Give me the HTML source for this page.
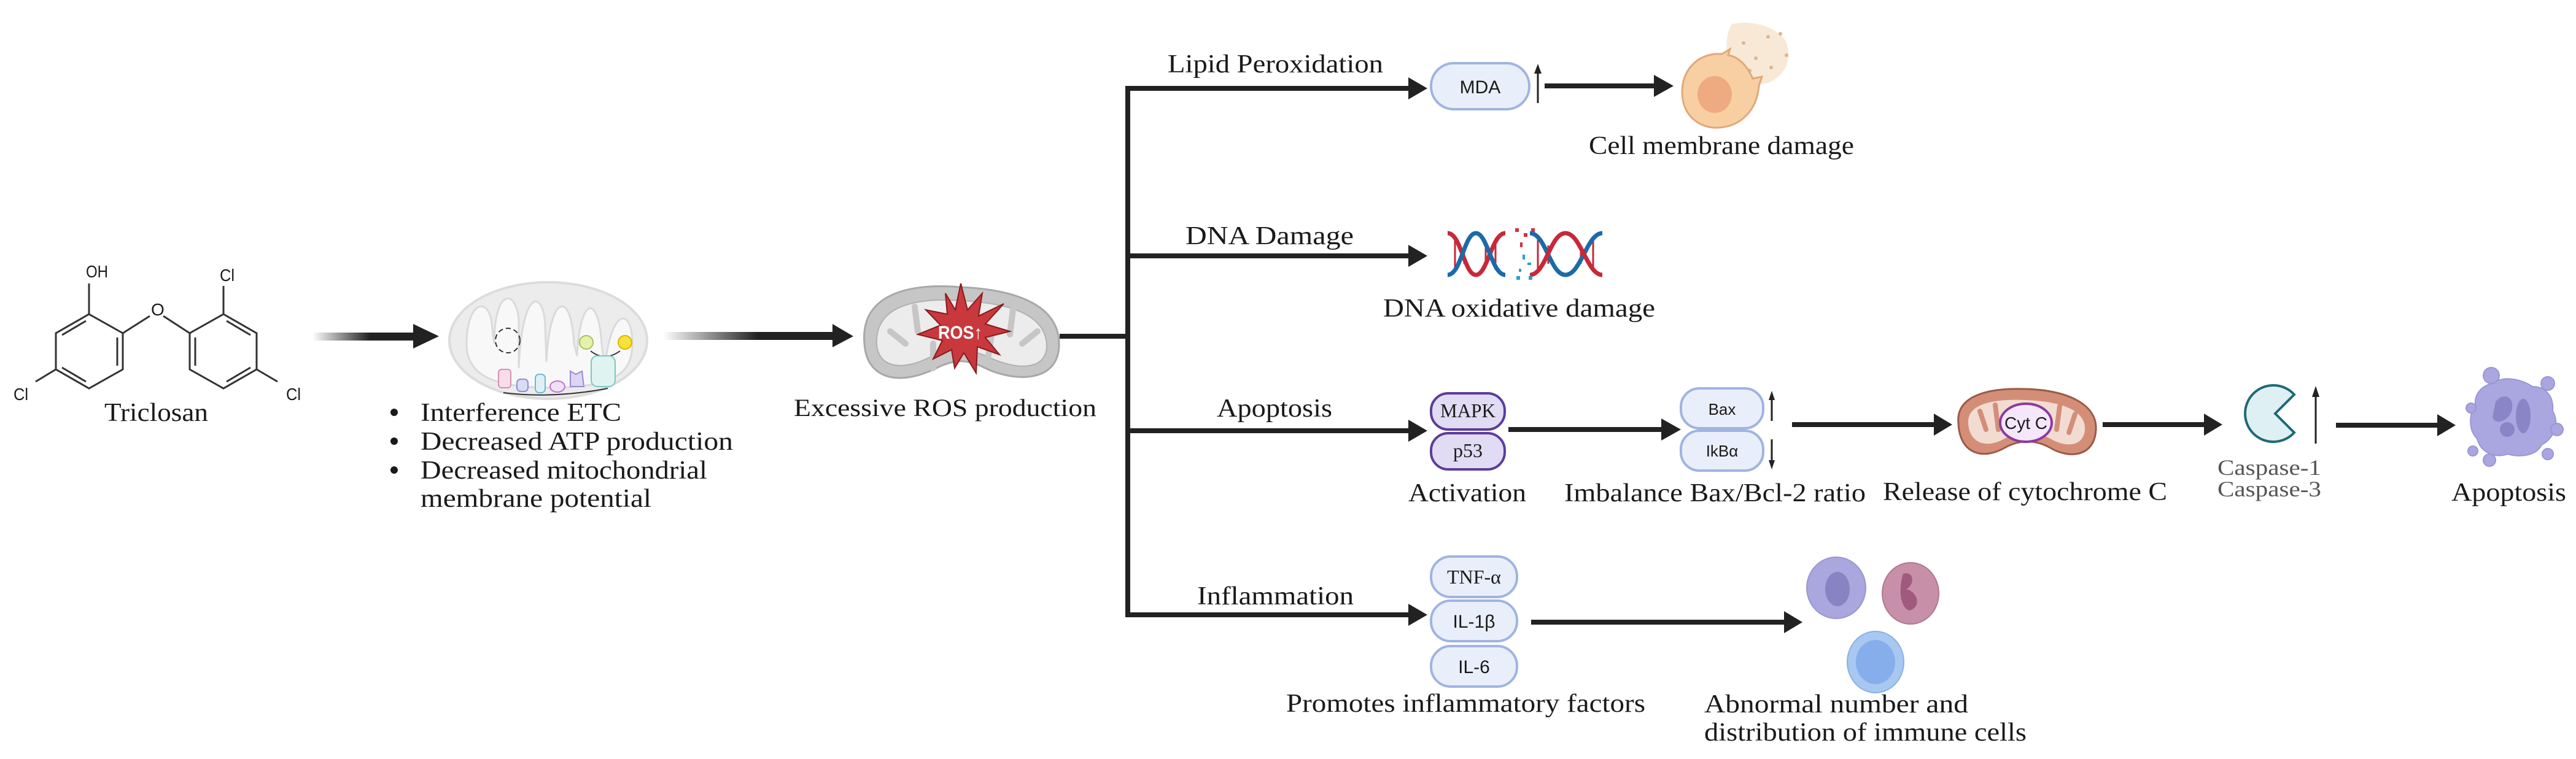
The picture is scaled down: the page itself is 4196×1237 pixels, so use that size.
<!DOCTYPE html>
<html><head><meta charset="utf-8"><style>
html,body{margin:0;padding:0;background:#fff;}
svg{display:block;}
text{font-family:"Liberation Serif",serif;fill:#1a1a1a;}
.s{font-family:"Liberation Sans",sans-serif;}
</style></head><body>
<svg width="4196" height="1237" viewBox="0 0 4196 1237" xmlns="http://www.w3.org/2000/svg">
<defs>
<linearGradient id="g1" x1="0" x2="1" y1="0" y2="0"><stop offset="0" stop-color="#fff"/><stop offset="0.55" stop-color="#222"/><stop offset="1" stop-color="#222"/></linearGradient>
</defs>

<!-- Triclosan -->
<g stroke="#333" stroke-width="3" fill="none">
<polygon points="145,512 200,543 200,602 145,633 91,602 91,543"/>
<line x1="191" y1="550" x2="191" y2="596"/><line x1="140" y1="622" x2="101" y2="599"/><line x1="101" y1="546" x2="140" y2="523"/>
<polygon points="364,512 418,543 418,602 364,633 309,602 309,543"/>
<line x1="318" y1="550" x2="318" y2="596"/><line x1="369" y1="622" x2="408" y2="599"/><line x1="369" y1="523" x2="408" y2="546"/>
<line x1="145" y1="512" x2="145" y2="462"/>
<line x1="200" y1="543" x2="244" y2="515"/><line x1="266" y1="515" x2="309" y2="543"/>
<line x1="364" y1="512" x2="364" y2="466"/>
<line x1="91" y1="602" x2="58" y2="622"/><line x1="418" y1="602" x2="452" y2="622"/>
</g>
<text x="140" y="452" class="s" font-size="28" textLength="36" lengthAdjust="spacingAndGlyphs">OH</text>
<text x="246" y="514" class="s" font-size="28">O</text>
<text x="358" y="458" class="s" font-size="28" textLength="24" lengthAdjust="spacingAndGlyphs">Cl</text>
<text x="22" y="652" class="s" font-size="28" textLength="24" lengthAdjust="spacingAndGlyphs">Cl</text>
<text x="466" y="652" class="s" font-size="28" textLength="24" lengthAdjust="spacingAndGlyphs">Cl</text>
<text x="170" y="686" font-size="42" textLength="169" lengthAdjust="spacingAndGlyphs">Triclosan</text>

<!-- Arrow 1 -->
<rect x="509" y="542" width="170" height="13" fill="url(#g1)"/>
<polygon points="673,528 715,548 673,568" fill="#222"/>

<!-- Mito 1 -->
<ellipse cx="893" cy="555" rx="161" ry="95" fill="#ececec" stroke="#dcdcdc" stroke-width="4"/>
<path d="M760,560 C760,500 790,480 800,520 L805,560 C805,470 840,470 845,520 L845,600 C850,470 885,470 888,530 L890,590 C895,480 930,470 935,560 L940,580 C945,480 975,480 980,560 L985,600 C995,500 1030,500 1030,560 C1030,610 1000,630 900,632 C800,632 760,610 760,560 Z" fill="#f8f8f8" stroke="#dadada" stroke-width="3"/>
<circle cx="827" cy="555" r="20" fill="none" stroke="#333" stroke-width="2" stroke-dasharray="8,5"/>
<circle cx="955" cy="558" r="11" fill="#e6f2a8" stroke="#a8c060" stroke-width="2"/>
<circle cx="1018" cy="558" r="11" fill="#f7e23a" stroke="#d8b800" stroke-width="2"/>
<path d="M962,572 Q985,590 1010,572" fill="none" stroke="#333" stroke-width="2"/>
<rect x="963" y="580" width="39" height="50" rx="10" fill="#dff3f0" stroke="#7cc8c0" stroke-width="2"/>
<rect x="812" y="602" width="20" height="30" rx="5" fill="#f6dde8" stroke="#d790b0" stroke-width="2"/>
<rect x="842" y="618" width="18" height="20" rx="6" fill="#d8dcf4" stroke="#8a90d0" stroke-width="2"/>
<rect x="872" y="610" width="16" height="30" rx="6" fill="#def0f6" stroke="#70b8d0" stroke-width="2"/>
<ellipse cx="908" cy="630" rx="12" ry="9" fill="#f0e0f6" stroke="#c070d0" stroke-width="2"/>
<path d="M929,605 L938,610 L948,605 L951,630 L929,630 Z" fill="#ddd6f2" stroke="#9a8ad0" stroke-width="2"/>
<path d="M820,640 Q900,650 990,633" fill="none" stroke="#333" stroke-width="2"/>

<!-- bullets -->
<g font-size="42">
<circle cx="642" cy="672" r="6" fill="#1a1a1a"/><text x="685" y="686" textLength="327" lengthAdjust="spacingAndGlyphs">Interference ETC</text>
<circle cx="642" cy="719" r="6" fill="#1a1a1a"/><text x="685" y="733" textLength="509" lengthAdjust="spacingAndGlyphs">Decreased ATP production</text>
<circle cx="642" cy="766" r="6" fill="#1a1a1a"/><text x="685" y="780" textLength="467" lengthAdjust="spacingAndGlyphs">Decreased mitochondrial</text>
<text x="685" y="826" textLength="376" lengthAdjust="spacingAndGlyphs">membrane potential</text>
</g>

<!-- Arrow 2 -->
<rect x="1080" y="541" width="280" height="13" fill="url(#g1)"/>
<polygon points="1356,528 1390,548 1356,566" fill="#222"/>

<!-- ROS mito -->
<path d="M1408,560 C1400,470 1500,462 1565,468 C1660,472 1728,500 1725,565 C1722,625 1650,622 1605,600 C1575,585 1555,585 1525,600 C1470,628 1412,622 1408,560 Z" fill="#c6c6c6" stroke="#a8a8a8" stroke-width="3"/>
<path d="M1428,560 C1425,495 1500,485 1565,490 C1650,494 1705,515 1705,565 C1703,605 1655,603 1610,582 C1575,566 1550,566 1515,582 C1470,605 1430,600 1428,560 Z" fill="#ececec" stroke="#b0b0b0" stroke-width="2"/>
<g stroke="#c6c6c6" stroke-width="10" stroke-linecap="round" fill="none">
<path d="M1450,540 L1475,560"/><path d="M1490,500 L1495,540"/><path d="M1520,600 L1520,560"/><path d="M1610,580 L1615,545"/><path d="M1650,505 L1645,545"/><path d="M1690,540 L1665,560"/>
</g>
<polygon points="1565,462 1576,505 1600,478 1594,515 1635,495 1605,528 1645,540 1605,550 1628,578 1592,565 1590,608 1570,575 1555,600 1550,570 1520,585 1535,555 1495,545 1532,530 1508,505 1543,512 1540,478 1556,505" fill="#c8383c" stroke="#8a1a1a" stroke-width="2"/>
<text x="1528" y="552" class="s" font-size="30" font-weight="bold" style="fill:#fff" textLength="72" lengthAdjust="spacingAndGlyphs">ROS↑</text>
<text x="1293" y="678" font-size="40" textLength="493" lengthAdjust="spacingAndGlyphs">Excessive ROS production</text>

<!-- Tree -->
<g stroke="#222" stroke-width="8" fill="none">
<line x1="1726" y1="548" x2="1838" y2="548"/>
<line x1="1837" y1="140" x2="1837" y2="1006"/>
<line x1="1837" y1="144" x2="2300" y2="144"/>
<line x1="1837" y1="417" x2="2300" y2="417"/>
<line x1="1837" y1="702" x2="2300" y2="702"/>
<line x1="1837" y1="1002" x2="2300" y2="1002"/>
<line x1="2516" y1="140" x2="2700" y2="140"/>
<line x1="2457" y1="700" x2="2712" y2="700"/>
<line x1="2919" y1="692" x2="3155" y2="692"/>
<line x1="3425" y1="692" x2="3594" y2="692"/>
<line x1="3805" y1="693" x2="3975" y2="693"/>
<line x1="2494" y1="1014" x2="2912" y2="1014"/>
</g>
<g fill="#222">
<polygon points="2294,126 2325,144 2294,162"/>
<polygon points="2294,399 2325,417 2294,435"/>
<polygon points="2294,684 2325,702 2294,720"/>
<polygon points="2294,984 2325,1002 2294,1020"/>
<polygon points="2694,122 2726,140 2694,158"/>
<polygon points="2706,682 2738,700 2706,718"/>
<polygon points="3150,674 3180,692 3150,710"/>
<polygon points="3590,674 3620,692 3590,710"/>
<polygon points="3970,675 4000,693 3970,711"/>
<polygon points="2906,996 2936,1014 2906,1032"/>
</g>

<!-- branch labels -->
<g font-size="42">
<text x="1902" y="118" textLength="351" lengthAdjust="spacingAndGlyphs">Lipid Peroxidation</text>
<text x="1931" y="398" textLength="274" lengthAdjust="spacingAndGlyphs">DNA Damage</text>
<text x="1982" y="679" textLength="188" lengthAdjust="spacingAndGlyphs">Apoptosis</text>
<text x="1950" y="985" textLength="255" lengthAdjust="spacingAndGlyphs">Inflammation</text>
</g>

<!-- MDA -->
<rect x="2331" y="103" width="160" height="75" rx="37" fill="#e9effa" stroke="#9fb4e2" stroke-width="4"/>
<text x="2411" y="152" class="s" font-size="30" text-anchor="middle">MDA</text>
<line x1="2505" y1="168" x2="2505" y2="118" stroke="#222" stroke-width="3"/><polygon points="2499,120 2505,104 2511,120" fill="#222"/>

<!-- damaged cell -->
<path d="M2820,40 C2850,30 2900,45 2910,70 C2920,100 2905,125 2880,135 C2860,140 2840,130 2830,120 C2815,105 2805,70 2820,40 Z" fill="#f6e3cc" opacity="0.8"/>
<g fill="#e0b48c"><circle cx="2840" cy="70" r="3"/><circle cx="2860" cy="95" r="3"/><circle cx="2880" cy="60" r="3"/><circle cx="2900" cy="55" r="3"/><circle cx="2885" cy="110" r="3"/><circle cx="2910" cy="90" r="3"/><circle cx="2850" cy="115" r="3"/></g>
<path d="M2805,88 C2770,85 2740,110 2740,150 C2740,190 2770,210 2800,208 C2835,206 2862,180 2865,140 L2870,125 L2855,128 C2845,105 2830,92 2815,90 L2818,80 Z" fill="#f7cfa3" stroke="#e1a878" stroke-width="3"/>
<ellipse cx="2793" cy="154" rx="28" ry="30" fill="#eeaa80"/>
<text x="2588" y="251" font-size="42" textLength="432" lengthAdjust="spacingAndGlyphs">Cell membrane damage</text>

<!-- DNA -->
<g stroke="#c8283a" stroke-width="3">
<line x1="2370" y1="388" x2="2370" y2="440"/><line x1="2385" y1="400" x2="2385" y2="430"/><line x1="2420" y1="400" x2="2420" y2="430"/><line x1="2436" y1="388" x2="2436" y2="440"/>
<line x1="2505" y1="388" x2="2505" y2="440"/><line x1="2522" y1="400" x2="2522" y2="430"/><line x1="2575" y1="400" x2="2575" y2="430"/><line x1="2595" y1="388" x2="2595" y2="440"/>
</g>
<g stroke-width="7" fill="none">
<path d="M2358,380 C2380,380 2385,448 2404,448 C2423,448 2430,380 2452,380" stroke="#c8283a"/>
<path d="M2358,448 C2380,448 2385,380 2404,380 C2423,380 2430,448 2452,448" stroke="#1c6aa8"/>
<path d="M2492,380 C2518,380 2525,448 2550,448 C2575,448 2585,380 2610,380" stroke="#1c6aa8"/>
<path d="M2492,448 C2518,448 2525,380 2550,380 C2575,380 2585,448 2610,448" stroke="#c8283a"/>
</g>
<g fill="#d03040"><rect x="2468" y="372" width="6" height="6"/><rect x="2482" y="380" width="6" height="6"/><rect x="2494" y="372" width="6" height="6"/><rect x="2476" y="395" width="4" height="8"/></g>
<g fill="#2aa0c8"><rect x="2480" y="415" width="4" height="8"/><rect x="2488" y="428" width="6" height="4"/><rect x="2474" y="438" width="4" height="5"/><rect x="2470" y="450" width="6" height="6"/><rect x="2490" y="450" width="6" height="6"/></g>
<text x="2253" y="516" font-size="42" textLength="443" lengthAdjust="spacingAndGlyphs">DNA oxidative damage</text>

<!-- MAPK / p53 -->
<rect x="2331" y="641" width="120" height="59" rx="28" fill="#e2dbf4" stroke="#5b3d9c" stroke-width="4"/>
<rect x="2331" y="706" width="120" height="59" rx="28" fill="#e2dbf4" stroke="#5b3d9c" stroke-width="4"/>
<text x="2391" y="680" font-size="32" text-anchor="middle" textLength="90" lengthAdjust="spacingAndGlyphs">MAPK</text>
<text x="2391" y="745" font-size="32" text-anchor="middle">p53</text>
<text x="2294" y="817" font-size="42" textLength="192" lengthAdjust="spacingAndGlyphs">Activation</text>

<!-- Bax / IkBa -->
<rect x="2738" y="633" width="134" height="65" rx="30" fill="#e9effa" stroke="#9fb4e2" stroke-width="4"/>
<rect x="2738" y="702" width="134" height="65" rx="30" fill="#e9effa" stroke="#9fb4e2" stroke-width="4"/>
<text x="2805" y="676" class="s" font-size="26" text-anchor="middle">Bax</text>
<text x="2805" y="744" class="s" font-size="26" text-anchor="middle">IkBα</text>
<line x1="2886" y1="686" x2="2886" y2="650" stroke="#222" stroke-width="3"/><polygon points="2881,652 2886,637 2891,652" fill="#222"/>
<line x1="2886" y1="716" x2="2886" y2="752" stroke="#222" stroke-width="3"/><polygon points="2881,750 2886,765 2891,750" fill="#222"/>
<text x="2548" y="817" font-size="42" textLength="491" lengthAdjust="spacingAndGlyphs">Imbalance Bax/Bcl-2 ratio</text>

<!-- red mito -->
<path d="M3190,690 C3185,640 3250,632 3300,634 C3370,636 3416,660 3414,700 C3412,745 3370,748 3340,730 C3315,716 3290,716 3265,730 C3230,750 3192,740 3190,690 Z" fill="#d48e78" stroke="#9a5a48" stroke-width="3"/>
<path d="M3206,690 C3204,655 3255,650 3300,652 C3360,654 3398,670 3396,700 C3394,728 3365,730 3340,715 C3315,702 3290,702 3265,715 C3235,732 3208,722 3206,690 Z" fill="#f2dcd2"/>
<g stroke="#d48e78" stroke-width="8" stroke-linecap="round"><line x1="3225" y1="670" x2="3235" y2="700"/><line x1="3250" y1="660" x2="3255" y2="700"/><line x1="3355" y1="662" x2="3350" y2="700"/><line x1="3380" y1="675" x2="3370" y2="705"/></g>
<ellipse cx="3300" cy="689" rx="42" ry="31" fill="#f5e6fa" stroke="#8a3aa0" stroke-width="4"/>
<text x="3300" y="699" class="s" font-size="28" text-anchor="middle">Cyt C</text>
<text x="3067" y="815" font-size="42" textLength="463" lengthAdjust="spacingAndGlyphs">Release of cytochrome C</text>

<!-- caspase -->
<path d="M3737,643 A46,46 0 1 0 3737,705 L3706,674 Z" fill="#dff0f4" stroke="#1e6a76" stroke-width="4"/>
<line x1="3772" y1="723" x2="3772" y2="645" stroke="#222" stroke-width="3"/><polygon points="3766,647 3772,629 3778,647" fill="#222"/>
<text x="3612" y="774" font-size="36" style="fill:#555" textLength="169" lengthAdjust="spacingAndGlyphs">Caspase-1</text>
<text x="3612" y="809" font-size="36" style="fill:#555" textLength="169" lengthAdjust="spacingAndGlyphs">Caspase-3</text>

<!-- apoptotic cell -->
<path d="M4060,625 C4080,610 4110,620 4125,630 C4150,630 4160,650 4158,670 C4170,690 4160,715 4140,725 C4130,745 4100,745 4085,740 C4060,748 4040,735 4035,715 C4020,700 4022,675 4032,660 C4030,640 4045,628 4060,625 Z" fill="#aaa6e0" stroke="#9a96d6" stroke-width="2"/>
<path d="M4065,655 C4075,640 4095,645 4092,665 C4090,685 4065,695 4060,680 Z" fill="#8985c6"/>
<ellipse cx="4110" cy="678" rx="12" ry="28" fill="#8985c6"/>
<ellipse cx="4084" cy="700" rx="12" ry="12" fill="#8985c6"/>
<g fill="#aaa6e0" stroke="#9a96d6" stroke-width="2"><circle cx="4058" cy="612" r="13"/><circle cx="4150" cy="625" r="11"/><circle cx="4025" cy="665" r="8"/><circle cx="4165" cy="700" r="10"/><circle cx="4028" cy="735" r="8"/><circle cx="4055" cy="750" r="10"/><circle cx="4150" cy="740" r="9"/></g>
<text x="3993" y="816" font-size="42" textLength="187" lengthAdjust="spacingAndGlyphs">Apoptosis</text>

<!-- cytokines -->
<rect x="2331" y="907" width="140" height="66" rx="32" fill="#e9effa" stroke="#9fb4e2" stroke-width="4"/>
<rect x="2331" y="979" width="140" height="66" rx="32" fill="#e9effa" stroke="#9fb4e2" stroke-width="4"/>
<rect x="2331" y="1053" width="140" height="66" rx="32" fill="#e9effa" stroke="#9fb4e2" stroke-width="4"/>
<text x="2401" y="951" font-size="32" text-anchor="middle">TNF-α</text>
<text x="2401" y="1023" class="s" font-size="30" text-anchor="middle">IL-1β</text>
<text x="2401" y="1097" class="s" font-size="30" text-anchor="middle">IL-6</text>
<text x="2095" y="1160" font-size="42" textLength="585" lengthAdjust="spacingAndGlyphs">Promotes inflammatory factors</text>

<!-- immune cells -->
<ellipse cx="2991" cy="958" rx="48" ry="50" fill="#aaa6de" stroke="#9a96d2" stroke-width="2"/>
<ellipse cx="2993" cy="960" rx="20" ry="28" fill="#8884c4"/>
<ellipse cx="3112" cy="967" rx="46" ry="50" fill="#c890a8" stroke="#b07890" stroke-width="2"/>
<path d="M3100,935 C3120,930 3118,955 3105,960 C3125,965 3130,990 3110,995 C3095,990 3092,960 3100,935 Z" fill="#a05a7e"/>
<ellipse cx="3055" cy="1079" rx="46" ry="50" fill="#a8c8f2" stroke="#8ab0e6" stroke-width="2"/>
<ellipse cx="3055" cy="1079" rx="32" ry="36" fill="#86aeea"/>
<text x="2776" y="1161" font-size="42" textLength="430" lengthAdjust="spacingAndGlyphs">Abnormal number and</text>
<text x="2776" y="1207" font-size="42" textLength="525" lengthAdjust="spacingAndGlyphs">distribution of immune cells</text>
</svg>
</body></html>
